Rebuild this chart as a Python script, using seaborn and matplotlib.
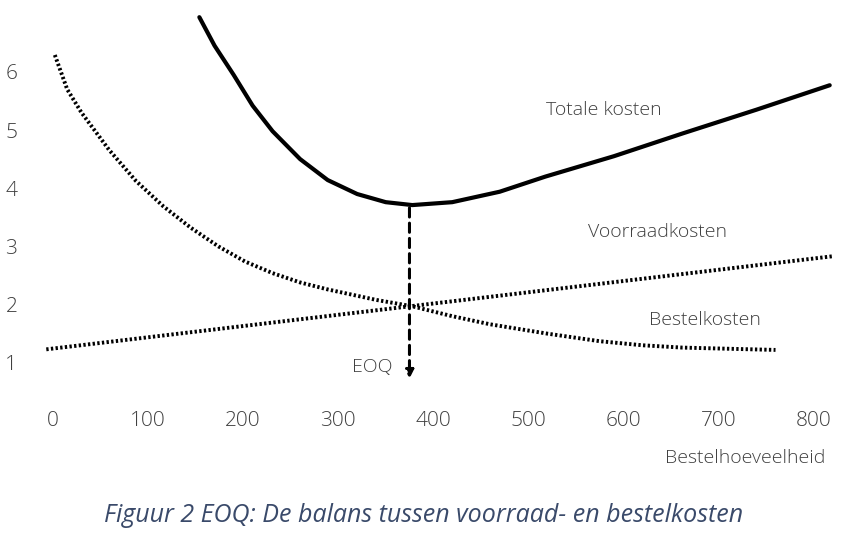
import matplotlib
matplotlib.use('Agg')
import matplotlib.pyplot as plt
import seaborn as sns

# values
total_x = [154, 170, 190, 210, 231, 260, 289, 320, 350, 378, 420, 470, 518, 590, 662, 740, 817]
total_y = [6.94, 6.45, 5.95, 5.42, 4.98, 4.5, 4.14, 3.9, 3.76, 3.71, 3.76, 3.94, 4.2, 4.55, 4.94, 5.35, 5.77]
bestel_x = [2, 15, 30, 59, 87, 116, 145, 174, 202, 231, 260, 289, 340, 378, 420, 460, 520, 575, 620, 662, 760]
bestel_y = [6.29, 5.7, 5.3, 4.66, 4.13, 3.69, 3.32, 3.0, 2.74, 2.54, 2.38, 2.26, 2.08, 1.97, 1.8, 1.66, 1.5, 1.37, 1.3, 1.26, 1.22]
voorraad_x = [-7, 820]
voorraad_y = [1.23, 2.83]
eoq_x = 375
eoq_y = 3.71
x_ticks = [0, 100, 200, 300, 400, 500, 600, 700, 800]
y_ticks = [1, 2, 3, 4, 5, 6]

sns.set_theme(style="white")
plt.rcParams['font.family'] = ['Open Sans', 'DejaVu Sans']
grey = '#404040'

fig = plt.figure(figsize=(8.48, 5.59), dpi=100)
ax = fig.add_axes([0.040, 0.3095, 0.953, 0.666])

sns.lineplot(x=total_x, y=total_y, ax=ax, color='black', lw=3)
sns.lineplot(x=bestel_x, y=bestel_y, ax=ax, color='black', lw=2.8, linestyle=(0, (0.6, 0.6)))
sns.lineplot(x=voorraad_x, y=voorraad_y, ax=ax, color='black', lw=2.8, linestyle=(0, (0.6, 0.6)))

ax.annotate('', xy=(eoq_x, 0.68), xytext=(eoq_x, eoq_y), annotation_clip=False,
            arrowprops=dict(arrowstyle='-|>', color='black', lw=2.2, linestyle=(0, (3, 2)),
                            mutation_scale=12))
ax.text(eoq_x - 18, 0.92, 'EOQ', ha='right', va='center', fontsize=14, color=grey,
        fontweight='light', clip_on=False)

ax.text(579, 5.35, 'Totale kosten', ha='center', va='center', fontsize=14, color=grey, fontweight='light')
ax.text(636, 3.25, 'Voorraadkosten', ha='center', va='center', fontsize=14, color=grey, fontweight='light')
ax.text(686, 1.74, 'Bestelkosten', ha='center', va='center', fontsize=14, color=grey, fontweight='light')

ax.set_xlim(-20, 830)
ax.set_ylim(0.6, 7.0)
ax.set_xticks(x_ticks)
ax.set_yticks(y_ticks)
ax.tick_params(axis='x', length=0, pad=18, labelsize=15, labelcolor=grey)
ax.tick_params(axis='y', length=0, pad=12, labelsize=15, labelcolor=grey)
for lab in ax.get_xticklabels() + ax.get_yticklabels():
    lab.set_fontweight('light')
for s in ax.spines.values():
    s.set_visible(False)
ax.grid(False)

fig.text(825 / 848, 1 - 458 / 559, 'Bestelhoeveelheid', ha='right', va='center', fontsize=14,
         color=grey, fontweight='light')
fig.text(0.5, 1 - 515 / 559, 'Figuur 2 EOQ: De balans tussen voorraad- en bestelkosten',
         ha='center', va='center', fontsize=18, style='italic', color='#3a4a6a')

fig.savefig('out.png', dpi=100)
